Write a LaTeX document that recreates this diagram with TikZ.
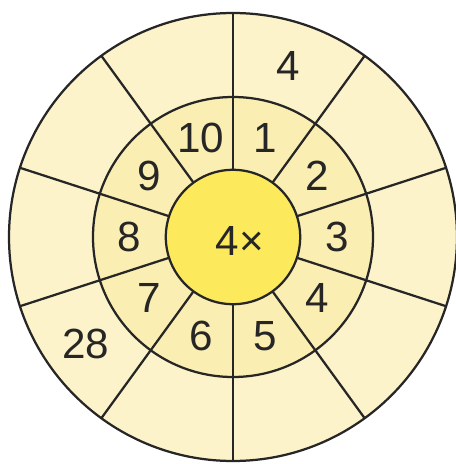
\documentclass[tikz,border=0pt]{standalone}
\usepackage{fontspec}
\setmainfont{Liberation Sans}
\usepackage{xcolor}
\usepackage{tikz}
\usetikzlibrary{
	calc,
	positioning
}
\definecolor{ringout}{HTML}{FCF3CA}
\definecolor{ringmid}{HTML}{FBEEB2}
\definecolor{ringin}{HTML}{FCE95C}
\definecolor{edge}{HTML}{262626}

\begin{document}
\begin{tikzpicture}[
	num/.style={font=\fontsize{30}{36}\selectfont, text=edge, inner sep=0pt},
	ring/.style={draw=edge, line width=1.6pt}
]
	\useasboundingbox (-5.825,-5.675) rectangle (5.575,5.925);
	% 圆环
	\fill[ringout] (0,0) circle (5.6);
	\fill[ringmid] (0,0) circle (3.5);
	\fill[ringin] (0,0) circle (1.68);
	% 分割线
	\foreach \a in {18,54,...,342}
	\draw[edge, line width=1.6pt] (\a:1.68) -- (\a:5.6);
	\draw[ring] (0,0) circle (5.6);
	\draw[ring] (0,0) circle (3.5);
	\draw[ring] (0,0) circle (1.68);
	% 中间的数字
	\foreach \n in {1,...,10}
	\node[num] (m\n) at ({90-36*\n+18}:2.6) {\n};
	% 外圈的数字
	\node[num] (top) at (72:4.5) {4};
	\node[num] (low) at (-144:4.55) {28};
	% 中心
	\node[num] (mid) at (0.17,-0.1) {4×};
\end{tikzpicture}
\end{document}
